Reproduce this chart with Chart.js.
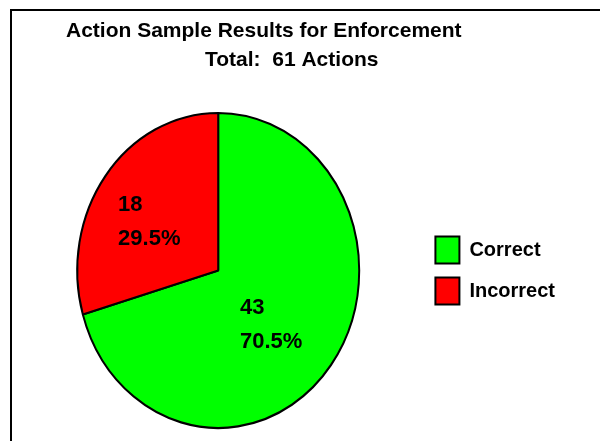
<!DOCTYPE html>
<html>
<head>
<meta charset="utf-8">
<script src="https://cdn.jsdelivr.net/npm/chart.js@4.4.1/dist/chart.umd.min.js"></script>
<style>
  html, body { margin: 0; padding: 0; background: #ffffff; }
  #wrap { position: relative; width: 600px; height: 441px; }
</style>
</head>
<body>
<div id="wrap"><canvas id="canvasPie"></canvas></div>
<script>
// Datos del gráfico
const categorias = ['Correct', 'Incorrect'];
const valores = [43, 18];
const colores = ['#00ff00', '#ff0000'];
const titulo = 'Action Sample Results for Enforcement';
const subtitulo = 'Total:  61 Actions';

const FUENTE = '"Liberation Sans", Arial, sans-serif';
const ESCALA_Y = 1.117; // la torta original es un óvalo

// Marco, títulos y óvalo
const marcoPlugin = {
    id: 'marco',
    beforeDraw(chart) {
        const ctx = chart.ctx;
        ctx.save();
        ctx.fillStyle = '#ffffff';
        ctx.fillRect(0, 0, chart.width, chart.height);
        ctx.fillStyle = '#000000';
        ctx.fillRect(10, 9, chart.width - 10, 2);
        ctx.fillRect(10, 9, 2, chart.height - 9);
        ctx.font = 'bold 21px ' + FUENTE;
        ctx.textAlign = 'left';
        ctx.textBaseline = 'alphabetic';
        ctx.fillText(titulo, 66, 37);
        ctx.fillText(subtitulo, 205, 66);
        ctx.restore();
    },
    beforeDatasetsDraw(chart) {
        const arc = chart.getDatasetMeta(0).data[0];
        const ctx = chart.ctx;
        ctx.save();
        ctx.translate(arc.x, arc.y);
        ctx.scale(1, ESCALA_Y);
        ctx.translate(-arc.x, -arc.y);
    },
    afterDatasetsDraw(chart) {
        const ctx = chart.ctx;
        ctx.restore();

        // Etiquetas: valor y porcentaje
        const total = valores.reduce((a, b) => a + b, 0);
        ctx.save();
        ctx.font = 'bold 22px ' + FUENTE;
        ctx.fillStyle = '#000000';
        ctx.textAlign = 'left';
        ctx.textBaseline = 'alphabetic';
        chart.getDatasetMeta(0).data.forEach((arc, i) => {
            const mid = (arc.startAngle + arc.endAngle) / 2;
            const r = arc.outerRadius * 0.54;
            const px = arc.x + Math.cos(mid) * r;
            const py = arc.y + Math.sin(mid) * r * ESCALA_Y;
            const pct = (valores[i] / total * 100).toFixed(1) + '%';
            const w = ctx.measureText(pct).width;
            const x0 = px - w / 2 - 8;
            ctx.fillText(String(valores[i]), x0, py - 8);
            ctx.fillText(pct, x0, py + 26);
        });
        ctx.restore();
    }
};

new Chart(document.getElementById('canvasPie'), {
    type: 'pie',
    data: {
        labels: categorias,
        datasets: [{
            data: valores,
            backgroundColor: colores,
            borderColor: '#000000',
            borderWidth: 2,
            radius: 141
        }]
    },
    options: {
        responsive: true,
        maintainAspectRatio: false,
        animation: false,
        layout: { padding: { top: 120, bottom: 20, left: 15, right: 35 } },
        plugins: {
            tooltip: { enabled: false },
            legend: {
                position: 'right',
                labels: {
                    color: '#000000',
                    boxWidth: 24,
                    boxHeight: 27,
                    padding: 14,
                    font: { family: FUENTE, size: 20, weight: 'bold' }
                }
            }
        }
    },
    plugins: [marcoPlugin]
});
</script>
</body>
</html>
